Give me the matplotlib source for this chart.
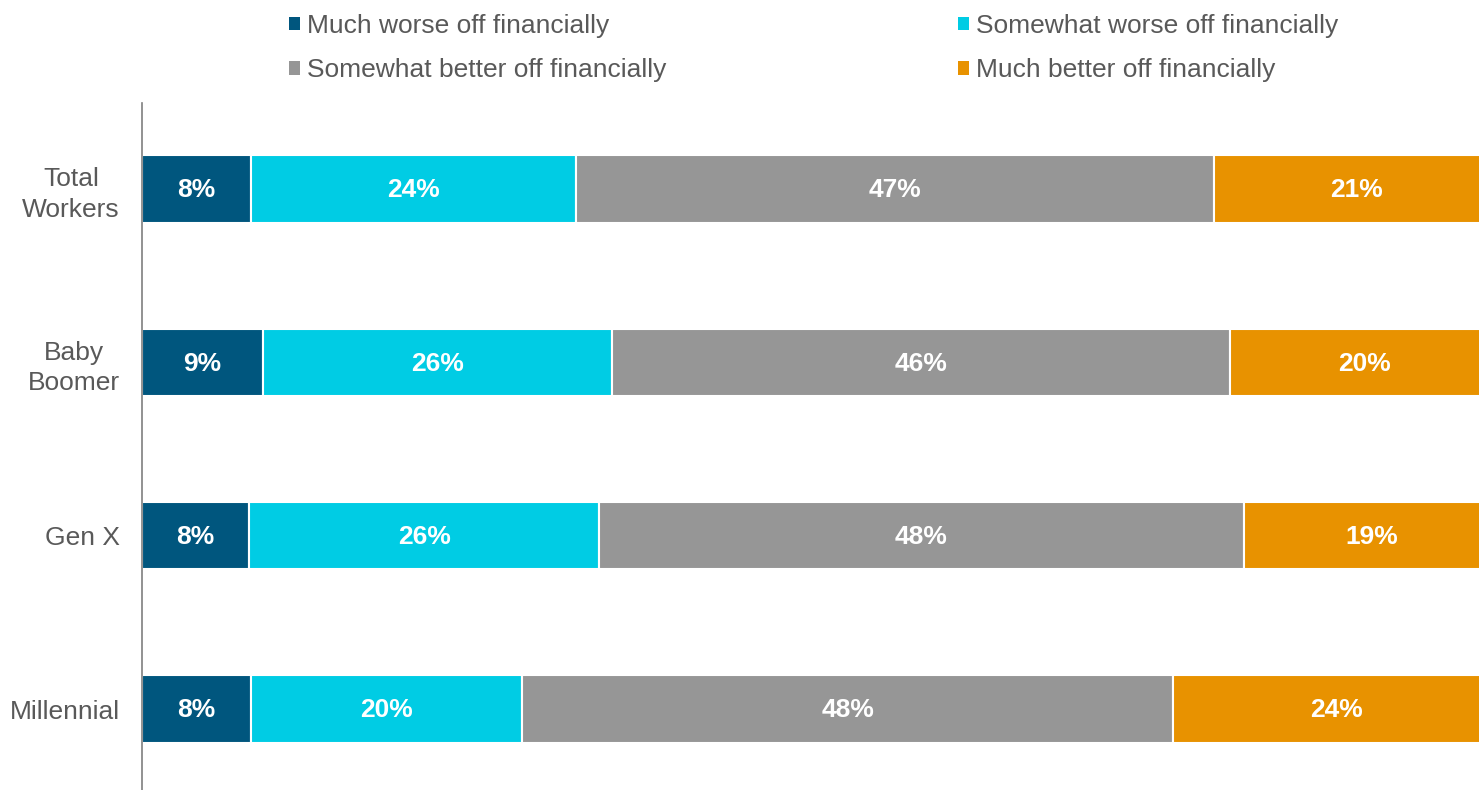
import matplotlib
matplotlib.use("Agg")
import matplotlib.pyplot as plt
from matplotlib.patches import Patch
import numpy as np

plt.rcParams['font.family'] = ['Liberation Sans', 'DejaVu Sans']

categories = ["Total\nWorkers", "Baby\nBoomer", "Gen X", "Millennial"]
series_names = ["Much worse off financially", "Somewhat worse off financially",
                "Somewhat better off financially", "Much better off financially"]
much_worse = [8, 9, 8, 8]
somewhat_worse = [24, 26, 26, 20]
somewhat_better = [47, 46, 48, 48]
much_better = [21, 20, 19, 24]
colors = ["#00567E", "#00CCE4", "#969696", "#E89200"]
text_color = "#595959"

W, H = 1479, 790
fig = plt.figure(figsize=(W / 100, H / 100), dpi=100)
ax = fig.add_axes([142 / W, 0, (1499 - 142) / W, 1 - 103 / H])

data = np.array([much_worse, somewhat_worse, somewhat_better, much_better], dtype=float)
totals = data.sum(axis=0)
norm = data / totals * 100
y = np.arange(len(categories))
left = np.zeros(len(categories))
for i, name in enumerate(series_names):
    ax.barh(y, norm[i], left=left, height=0.39, color=colors[i],
            edgecolor="white", linewidth=1.5, label=name)
    for j in range(len(categories)):
        ax.text(left[j] + norm[i][j] / 2, y[j] + 0.008, f"{int(data[i][j])}%",
                ha="center", va="center", color="white", fontsize=19, fontweight="bold")
    left += norm[i]

ax.set_xlim(0, 100)
ax.set_ylim(3.467, -0.496)
ax.set_yticks(y)
ax.set_yticklabels(categories, fontsize=19, color=text_color, multialignment="center",
                   linespacing=1.35)
ax.tick_params(axis="y", length=0, pad=16)
ax.set_xticks([])
for s in ["top", "right", "bottom"]:
    ax.spines[s].set_visible(False)
ax.spines["left"].set_color("#7F7F7F")
ax.spines["left"].set_linewidth(1.2)

order = [0, 2, 1, 3]
handles = [Patch(facecolor=colors[k], edgecolor="none") for k in order]
labels = [series_names[k] for k in order]
leg = fig.legend(handles, labels, ncol=2, loc="upper left",
                 bbox_to_anchor=(289 / W, 1 - 14 / H), frameon=False,
                 fontsize=19, labelcolor=text_color, handlelength=0.42, handleheight=0.42,
                 handletextpad=0.27, columnspacing=11.04, labelspacing=0.77,
                 borderaxespad=0, borderpad=0)

fig.savefig("out.png", dpi=100)
